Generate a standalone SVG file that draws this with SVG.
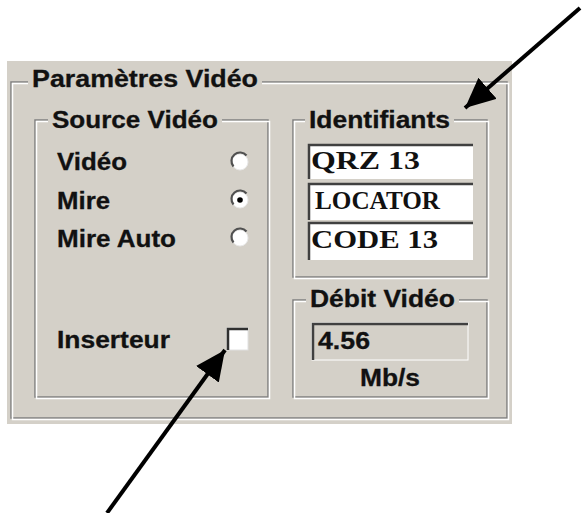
<svg xmlns="http://www.w3.org/2000/svg" width="582" height="513" viewBox="0 0 582 513">
<defs>
<style>
.lbl{font-family:"Liberation Sans",Arial,sans-serif;font-weight:bold;font-size:23px;fill:#111;stroke:#111;stroke-width:0.3}
.mono{font-family:"Liberation Serif","Times New Roman",serif;font-weight:bold;font-size:26px;fill:#111}
.etch1{fill:none;stroke:#808080;stroke-width:1.5}
.etch2{fill:none;stroke:#ffffff;stroke-width:1.5}
.face{fill:#d4d0c8}
.field{fill:#ffffff}
.sunk{fill:none;stroke:#404040;stroke-width:2.5}
.radio{fill:#ffffff;stroke:#e8e8e8;stroke-width:1}
.radioSh{fill:none;stroke:#505050;stroke-width:2.2}
.conn{stroke:#000;stroke-width:4;fill:none}
</style>
<marker id="ah" markerUnits="userSpaceOnUse" markerWidth="32" markerHeight="28" refX="30" refY="14" orient="auto" viewBox="0 0 32 28">
<path d="M0,0 L30,14 L0,28 Z" fill="#000"/>
</marker>
</defs>
<rect width="582" height="513" fill="#ffffff"/>
<g id="panel">
<rect x="7" y="61" width="505" height="363" class="face"/>
<rect x="11" y="82" width="496" height="336" class="etch1"/>
<rect x="12.5" y="83.5" width="496" height="336" class="etch2"/>
<rect x="28" y="70" width="234" height="24" class="face"/>
<text x="32" y="87" class="lbl" textLength="226" lengthAdjust="spacingAndGlyphs">Paramètres Vidéo</text>
</g>
<g id="source">
<rect x="35" y="120" width="233" height="277" class="etch1"/>
<rect x="36.5" y="121.5" width="233" height="277" class="etch2"/>
<rect x="48" y="108" width="174" height="24" class="face"/>
<text x="52" y="128" class="lbl" textLength="166" lengthAdjust="spacingAndGlyphs">Source Vidéo</text>
<g id="video">
<text x="57" y="170" class="lbl" textLength="70" lengthAdjust="spacingAndGlyphs">Vidéo</text>
<circle cx="240" cy="162" r="8" class="radio"/>
<path d="M233.5,166.5 A8,8 0 0 1 246.5,155.5" class="radioSh"/>
</g>
<g id="mire">
<text x="57" y="209" class="lbl" textLength="53" lengthAdjust="spacingAndGlyphs">Mire</text>
<circle cx="240" cy="200" r="8" class="radio"/>
<path d="M233.5,204.5 A8,8 0 0 1 246.5,193.5" class="radioSh"/>
<circle cx="240" cy="200" r="2.8" fill="#000"/>
</g>
<g id="mireauto">
<text x="57" y="247" class="lbl" textLength="119" lengthAdjust="spacingAndGlyphs">Mire Auto</text>
<circle cx="240" cy="238" r="8" class="radio"/>
<path d="M233.5,242.5 A8,8 0 0 1 246.5,231.5" class="radioSh"/>
</g>
<g id="inserteur">
<text x="57" y="348" class="lbl" textLength="113" lengthAdjust="spacingAndGlyphs">Inserteur</text>
<rect x="227" y="328" width="21" height="22" fill="#ffffff" stroke="#e0e0e0" stroke-width="1"/>
<path d="M228,350 L228,329 L248,329" fill="none" stroke="#303030" stroke-width="2.5"/>
</g>
</g>
<g id="identifiants">
<rect x="293" y="120" width="194" height="157" class="etch1"/>
<rect x="294.5" y="121.5" width="194" height="157" class="etch2"/>
<rect x="305" y="108" width="149" height="24" class="face"/>
<text x="309" y="128" class="lbl" textLength="141" lengthAdjust="spacingAndGlyphs">Identifiants</text>
<g id="qrz">
<rect x="308" y="144" width="165" height="35" class="field"/>
<path d="M309,179 L309,145 L473,145" class="sunk"/>
<text x="311" y="169" class="mono" textLength="109" lengthAdjust="spacingAndGlyphs" xml:space="preserve">QRZ 13</text>
</g>
<g id="locator">
<rect x="308" y="183" width="165" height="37" class="field"/>
<path d="M309,220 L309,184 L473,184" class="sunk"/>
<text x="315" y="209" class="mono" textLength="125" lengthAdjust="spacingAndGlyphs">LOCATOR</text>
</g>
<g id="code">
<rect x="308" y="222" width="165" height="38" class="field"/>
<path d="M309,260 L309,223 L473,223" class="sunk"/>
<text x="311" y="248" class="mono" textLength="127" lengthAdjust="spacingAndGlyphs" xml:space="preserve">CODE 13</text>
</g>
</g>
<g id="debit">
<rect x="293" y="300" width="194" height="97" class="etch1"/>
<rect x="294.5" y="301.5" width="194" height="97" class="etch2"/>
<rect x="306" y="288" width="153" height="24" class="face"/>
<text x="310" y="307" class="lbl" textLength="145" lengthAdjust="spacingAndGlyphs">Débit Vidéo</text>
<rect x="312" y="323" width="156" height="37" fill="#d4d0c8" stroke="#ffffff" stroke-width="1"/>
<path d="M313,360 L313,324 L468,324" class="sunk"/>
<text x="318" y="349" class="lbl" textLength="52" lengthAdjust="spacingAndGlyphs">4.56</text>
<text x="360" y="386" class="lbl" textLength="60" lengthAdjust="spacingAndGlyphs">Mb/s</text>
</g>
<g id="connectors">
<line x1="580" y1="8" x2="465" y2="108" class="conn" marker-end="url(#ah)"/>
<line x1="107" y1="513" x2="225" y2="350" class="conn" marker-end="url(#ah)"/>
</g>
</svg>
